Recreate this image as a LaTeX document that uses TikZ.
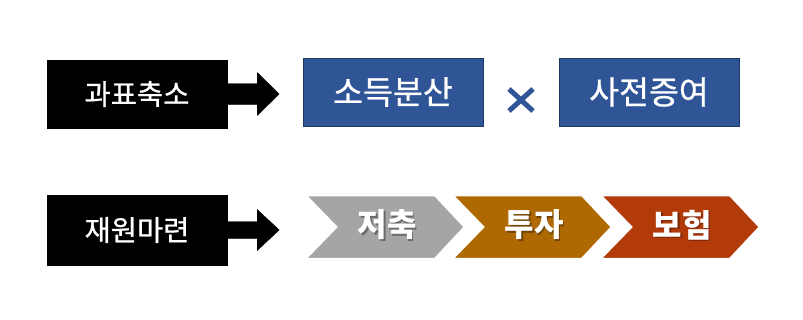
\documentclass[tikz,border=0pt]{standalone}
\usepackage{fontspec}
\usetikzlibrary{calc}
\newfontfamily\kr{Noto Sans CJK KR}
\newfontfamily\krm[FakeBold=0.8]{Noto Sans CJK KR}
\definecolor{boxblue}{HTML}{2F5597}
\definecolor{boxblueedge}{HTML}{1F3864}
\definecolor{chgray}{HTML}{A5A5A5}
\definecolor{chorange}{HTML}{AE6903}
\definecolor{chred}{HTML}{B33B0A}
\tikzset{
  blackbox/.style={draw=black, fill=black, minimum width=180pt, minimum height=68pt, inner sep=0pt, text=white, font=\krm\fontsize{28.5pt}{32pt}\selectfont},
  bluebox/.style={draw=boxblueedge, line width=1pt, fill=boxblue, minimum width=180pt, minimum height=68pt, inner sep=0pt, text=white, font=\krm\fontsize{32.5pt}{36pt}\selectfont},
  blockarrow/.style={fill=black, draw=black},
  chevron/.style={draw=white, line width=2.5pt, line join=miter},
  chtext/.style={text=white, font=\kr\bfseries\fontsize{32pt}{36pt}\selectfont, inner sep=0pt},
  chshadow/.style={text=black, opacity=0.35, font=\kr\bfseries\fontsize{32pt}{36pt}\selectfont, inner sep=0pt},
  timesmark/.style={draw=boxblue, line width=5pt}
}
\begin{document}
\begin{tikzpicture}[x=1pt, y=-1pt]
\useasboundingbox (0,0) rectangle (803,319);
\fill[white] (0,0) rectangle (803,319);
% row 1
\node[blackbox] (k1) at (137,94) {과표축소};
\node[bluebox] (b1) at (393,92) {소득분산};
\node[bluebox] (b2) at (649,92) {사전증여};
\coordinate (xc) at (521,100);
\draw[timesmark] ($(xc)+(-12,-11)$) -- ($(xc)+(12,11)$);
\draw[timesmark] ($(xc)+(-12,11)$) -- ($(xc)+(12,-11)$);
\draw[blockarrow] (k1.east) ++(0,-10.5) -- ++(30,0) -- ++(0,-11) -- ++(22,21.5) -- ++(-22,21.5) -- ++(0,-11) -- ++(-30,0) -- cycle;
% row 2
\node[blackbox, minimum height=70pt] (k2) at (137,230) {재원마련};
\draw[blockarrow] (k2.east) ++(0,-8.5) -- ++(30,0) -- ++(0,-12) -- ++(22,20.5) -- ++(-22,20.5) -- ++(0,-12) -- ++(-30,0) -- cycle;
% chevrons
\foreach \x/\c/\t/\n in {305/chgray/저축/c1, 452/chorange/투자/c2, 600/chred/보험/c3}{
  \fill[\c] (\x,195) -- (\x+130,195) -- (\x+160,227) -- (\x+130,259) -- (\x,259) -- (\x+31,227) -- cycle;
  \draw[chevron] (\x,195) -- (\x+130,195) -- (\x+160,227) -- (\x+130,259) -- (\x,259) -- (\x+31,227) -- cycle;
  \node[chshadow] at (\x+83.5,226.5) {\t};
  \node[chtext] (\n) at (\x+82,225) {\t};
}
\end{tikzpicture}
\end{document}
